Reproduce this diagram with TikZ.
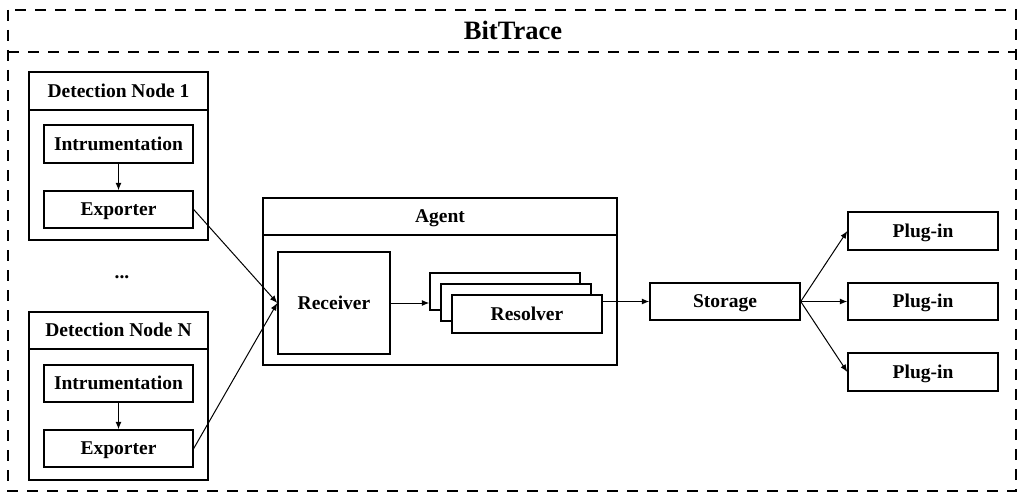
\documentclass[tikz,border=0pt]{standalone}
\usepackage{fontspec}
\setmainfont{Liberation Serif}
\usetikzlibrary{arrows.meta}
\begin{document}
\begin{tikzpicture}[x=1pt,y=-1pt,
  lbl/.style={font=\fontsize{19.5}{23}\selectfont\bfseries, inner sep=0pt, text height=12.9pt, text depth=0pt},
  box/.style={draw, line width=1.4pt, fill=white, lbl},
  frame/.style={draw, line width=1.4pt},
  conn/.style={line width=1pt, -{Latex[length=7.5pt,width=6pt]}}]
\useasboundingbox (0,0) rectangle (1020,495);

% outer dashed frame with title band
\draw[line width=2.4pt, dash pattern=on 11pt off 9pt] (8,10) rectangle (1016,491);
\draw[line width=2.4pt, dash pattern=on 11pt off 9pt] (8,52) -- (1016,52);
\node[font=\fontsize{26.5}{30}\selectfont\bfseries, inner sep=0pt, text height=17.5pt, text depth=0pt] (title) at (513,31) {BitTrace};

% detection node 1
\node[frame, minimum width=179pt, minimum height=168pt] (dn1) at (118.5,156) {};
\draw[line width=1.2pt] (29,110) -- (208,110);
\node[lbl] (dn1t) at (118.5,91) {Detection Node 1};
\node[box, minimum width=149pt, minimum height=38pt] (ins1) at (118.5,144) {Intrumentation};
\node[box, minimum width=149pt, minimum height=37pt] (exp1) at (118.5,209.5) {Exporter};
\draw[conn] (ins1) -- (exp1);

\node[lbl] (dots) at (122,272) {...};

% detection node N
\node[frame, minimum width=179pt, minimum height=168pt] (dnN) at (118.5,396) {};
\draw[line width=1.2pt] (29,349) -- (208,349);
\node[lbl] (dnNt) at (118.5,330.5) {Detection Node N};
\node[box, minimum width=149pt, minimum height=37pt] (insN) at (118.5,383.5) {Intrumentation};
\node[box, minimum width=149pt, minimum height=37pt] (expN) at (118.5,448.5) {Exporter};
\draw[conn] (insN) -- (expN);

% agent
\node[frame, minimum width=354pt, minimum height=167pt] (agent) at (440,281.5) {};
\draw[line width=1.2pt] (263,235) -- (617,235);
\node[lbl] (agentt) at (440,216.5) {Agent};
\node[box, minimum width=112pt, minimum height=102pt] (rcv) at (334,303) {Receiver};
\node[box, minimum width=150pt, minimum height=37pt] (rs1) at (505,291.5) {};
\node[box, minimum width=150pt, minimum height=37pt] (rs2) at (516,302.5) {};
\node[box, minimum width=150pt, minimum height=38pt] (rs3) at (527,314) {Resolver};

% storage and plug-ins
\node[box, minimum width=150pt, minimum height=37pt] (sto) at (725,301.5) {Storage};
\node[box, minimum width=150pt, minimum height=38pt] (pl1) at (923,231) {Plug-in};
\node[box, minimum width=150pt, minimum height=37pt] (pl2) at (923,301.5) {Plug-in};
\node[box, minimum width=150pt, minimum height=38pt] (pl3) at (923,372) {Plug-in};

% connectors
\draw[conn] (exp1.east) -- (rcv.west);
\draw[conn] (expN.east) -- (rcv.west);
\draw[conn] (rcv.east) -- (rcv.east -| rs1.west);
\draw[conn] (sto.west -| rs3.east) -- (sto.west);
\draw[conn] (sto.east) -- (pl1.west);
\draw[conn] (sto.east) -- (pl2.west);
\draw[conn] (sto.east) -- (pl3.west);
\end{tikzpicture}
\end{document}
